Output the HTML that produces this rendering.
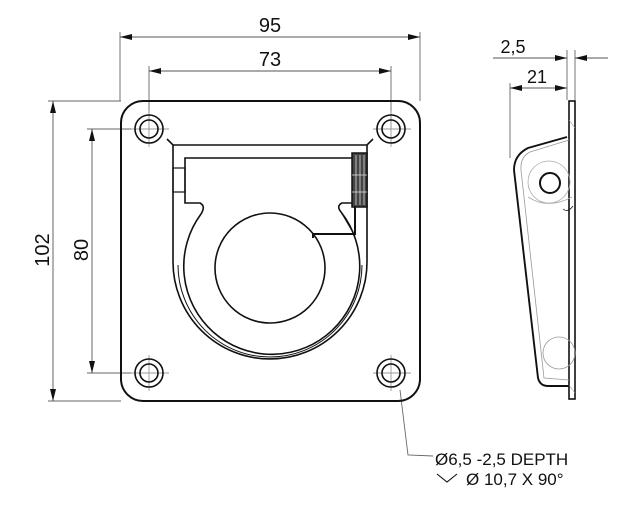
<!DOCTYPE html>
<html><head><style>
html,body{margin:0;padding:0;background:#fff;}
svg{display:block;}
text{font-family:"Liberation Sans",sans-serif;fill:#111;}
</style></head><body>
<svg width="620" height="516" viewBox="0 0 620 516" xmlns="http://www.w3.org/2000/svg">
<defs>
<marker id="a" viewBox="0 0 12 6" refX="12" refY="3" markerWidth="12" markerHeight="6" orient="auto-start-reverse" markerUnits="userSpaceOnUse"><path d="M0,0 L12,3 L0,6 z" fill="#111"/></marker>
</defs>
<g stroke="#666" stroke-width="0.9" fill="none">
<line x1="120" y1="32" x2="120" y2="101"/>
<line x1="420" y1="32" x2="420" y2="101"/>
<line x1="149" y1="66" x2="149" y2="129"/>
<line x1="391" y1="66" x2="391" y2="129"/>
<line x1="48" y1="101" x2="121" y2="101"/>
<line x1="48" y1="401" x2="121" y2="401"/>
<line x1="87" y1="129" x2="140" y2="129"/>
<line x1="87" y1="373" x2="140" y2="373"/>
<line x1="567" y1="50" x2="567" y2="100"/>
<line x1="575" y1="50" x2="575" y2="100"/>
<line x1="510" y1="83" x2="510" y2="158"/>
<line x1="120" y1="37" x2="420" y2="37" marker-start="url(#a)" marker-end="url(#a)" stroke="#555"/>
<line x1="149" y1="71" x2="391" y2="71" marker-start="url(#a)" marker-end="url(#a)" stroke="#555"/>
<line x1="53" y1="101" x2="53" y2="401" marker-start="url(#a)" marker-end="url(#a)" stroke="#555"/>
<line x1="92" y1="129" x2="92" y2="373" marker-start="url(#a)" marker-end="url(#a)" stroke="#555"/>
<line x1="510" y1="88" x2="567" y2="88" marker-start="url(#a)" marker-end="url(#a)" stroke="#555"/>
<line x1="493" y1="58" x2="567" y2="58" marker-end="url(#a)" stroke="#555"/>
<line x1="608" y1="58" x2="575" y2="58" marker-end="url(#a)" stroke="#555"/>
<g stroke="#999">
<line x1="131" y1="129" x2="169" y2="129"/><line x1="149" y1="111" x2="149" y2="147"/>
<line x1="373" y1="129" x2="411" y2="129"/><line x1="391" y1="111" x2="391" y2="147"/>
<line x1="131" y1="373" x2="169" y2="373"/><line x1="149" y1="355" x2="149" y2="391"/>
<line x1="373" y1="373" x2="411" y2="373"/><line x1="391" y1="355" x2="391" y2="391"/>
</g>
<polyline points="400,390 408,455 433,456"/>
</g>
<g stroke="#111" fill="none">
<rect x="121" y="101" width="299" height="300" rx="22" stroke-width="2"/>
<g stroke-width="1.6">
<circle cx="149" cy="129" r="14"/><circle cx="149" cy="129" r="9"/>
<circle cx="391" cy="129" r="14"/><circle cx="391" cy="129" r="9"/>
<circle cx="149" cy="373" r="14"/><circle cx="149" cy="373" r="9"/>
<circle cx="391" cy="373" r="14"/><circle cx="391" cy="373" r="9"/>
</g>
<path d="M167,139 L173,145 L367,145 L373,139" stroke-width="1.6"/>
<path d="M173,145 L173,262 A97,97 0 0 0 367,262 L367,145" stroke-width="1.6"/>
<path d="M353,158 L185,158 L185,203 L200,203 Q206,206 201,214 A88,88 0 1 0 341,212 Q336,206 342,203 L352,203" stroke-width="1.6"/>
<path d="M178,265 A92,92 0 0 0 362,265" stroke-width="1"/>
<rect x="173" y="168" width="12" height="24" stroke-width="1.2"/>
<circle cx="270" cy="268" r="55" stroke-width="1.6"/>
<path d="M313,238 L313,234 L355,234 L355,205 L352,205" stroke-width="2"/>
<path d="M341,212 L355,236" stroke-width="1"/>
<rect x="352" y="153" width="15" height="54" stroke-width="1.5" fill="#444"/>
<g stroke="#eee" stroke-width="0.7"><line x1="356" y1="155" x2="356" y2="205"/><line x1="360" y1="155" x2="360" y2="205"/><line x1="364" y1="155" x2="364" y2="205"/><line x1="352" y1="175" x2="367" y2="175"/><line x1="352" y1="192" x2="367" y2="192"/></g>
<rect x="569" y="101" width="6" height="298" stroke-width="1.6"/>
<path d="M567,137 L528,148 Q514,155 514,170 L538,378 Q540,386 548,386 L569,386" stroke-width="1.9"/>
<path d="M569,140 L530,152 Q520,157 521,170 L544,378 L569,380" stroke="#999" stroke-width="0.8"/>
<circle cx="550" cy="183" r="10" stroke-width="2"/>
<circle cx="549" cy="182" r="21" stroke="#aaa" stroke-width="0.8"/>
<path d="M528,197 Q548,210 572,197" stroke="#aaa" stroke-width="0.8"/>
<circle cx="559" cy="353" r="16" stroke="#999" stroke-width="0.8"/>
<line x1="569" y1="120" x2="575" y2="128" stroke="#999" stroke-width="0.6"/>
<line x1="569" y1="385" x2="575" y2="393" stroke="#999" stroke-width="0.6"/>
<path d="M563,209 Q568,213 573,206" stroke-width="0.8"/>
</g>
<text x="270" y="32" font-size="20" text-anchor="middle">95</text>
<text x="270" y="66" font-size="20" text-anchor="middle">73</text>
<text x="537" y="83" font-size="18" text-anchor="middle">21</text>
<text x="513" y="53" font-size="18" text-anchor="middle">2,5</text>
<text transform="translate(49,250) rotate(-90)" font-size="20" text-anchor="middle">102</text>
<text transform="translate(88,250) rotate(-90)" font-size="20" text-anchor="middle">80</text>
<text x="435" y="465" font-size="17">Ø6,5 -2,5 DEPTH</text>
<path d="M437,474 L447,482 L457,474" stroke="#111" stroke-width="1.1" fill="none"/>
<text x="466" y="485" font-size="17">Ø 10,7 X 90°</text>
</svg>
</body></html>
